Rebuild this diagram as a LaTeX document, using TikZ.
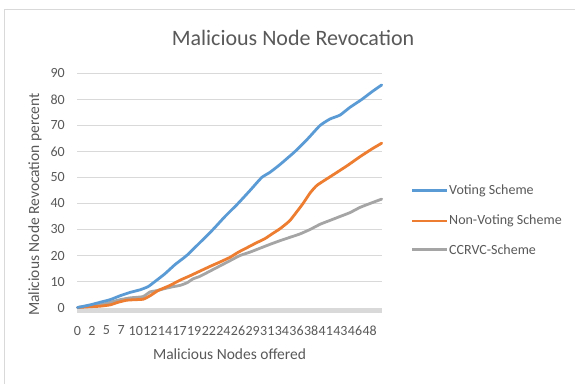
\documentclass[tikz,border=0pt]{standalone}
\usepackage{fontspec}
\setmainfont{Carlito}
\definecolor{txtgray}{HTML}{595959}
\definecolor{gridgray}{HTML}{D9D9D9}
\definecolor{framegray}{HTML}{D9D9D9}
\definecolor{cblue}{HTML}{5B9BD5}
\definecolor{corange}{HTML}{ED7D31}
\definecolor{cgray}{HTML}{A5A5A5}
\begin{document}
\begin{tikzpicture}[x=1pt,y=-1pt,
  ticklab/.style={text=txtgray,font=\fontsize{14}{14}\selectfont,inner sep=0pt},
  legtext/.style={text=txtgray,font=\fontsize{14}{14}\selectfont,inner sep=0pt,anchor=west},
  series/.style={line width=2.8pt,line join=round,line cap=round},
  gridline/.style={draw=gridgray,line width=0.9pt}]
\useasboundingbox (0,0) rectangle (575,383);
\fill[white] (0,0) rectangle (575,383);
\draw[framegray,line width=1pt] (4.5,395) -- (4.5,9) -- (590,9);
% title
\node[text=txtgray,font=\fontsize{22}{22}\selectfont,inner sep=0pt,anchor=base] (title) at (293,45) {Malicious Node Revocation};
% grid and y labels
\foreach \v [count=\i] in {10,20,...,90}{
  \coordinate (gl\i) at (77.3,{307.5-2.6*\v});
  \coordinate (gr\i) at (381.7,{307.5-2.6*\v});
  \draw[gridline] (gl\i) -- (gr\i);
  \node[ticklab,anchor=east] (yl\i) at (65,{307.5-2.6*\v}) {\v};
}
\node[ticklab,anchor=east] (yl0) at (65,307.5) {0};
\coordinate (axl) at (77.3,310.3);
\coordinate (axr) at (381.7,310.3);
\draw[gridgray,line width=5.5pt] (axl) -- (axr);
% x labels
\foreach \lab [count=\k from 0] in {0,2,5,7,10,12,14,17,19,22,24,26,29,31,34,36,38,41,43,46,48}{
  \node[ticklab,anchor=center] (xl\k) at ({77.3+14.616*\k},330.5) {\lab};
}
% axis titles
\node[text=txtgray,font=\fontsize{15.5}{15.5}\selectfont,inner sep=0pt] (xtitle) at (229.5,354) {Malicious Nodes offered};
\node[text=txtgray,font=\fontsize{15.5}{15.5}\selectfont,inner sep=0pt,rotate=90] (ytitle) at (35,204.5) {Malicious Node Revocation percent};
% data
\begin{scope}[y=2.6pt,shift={(0pt,-307.5pt)}]
\draw[series,cgray] plot[smooth,tension=0.3] coordinates {(77.5,0) (90,0.5) (100,1) (110,2) (120,3) (130,3.7) (143,4.2) (150,6) (157,6.5) (165,7.3) (173,8) (180,8.5) (187,9.5) (193,11) (200,12) (210,14) (220,16) (230,18) (240,20) (250,21.3) (260,22.8) (270,24.3) (280,25.7) (290,27) (300,28.3) (310,30) (320,32) (330,33.5) (340,35) (350,36.5) (360,38.5) (370,40) (381.7,41.7)};
\draw[series,corange] plot[smooth,tension=0.3] coordinates {(77.5,0) (90,0.3) (100,0.5) (110,1) (118,2) (126.7,2.8) (135,3) (143.3,3.2) (150,4.5) (158,6.5) (170,8.5) (180,10.5) (190,12.2) (200,14) (210,15.8) (220,17.5) (230,19.3) (238,21.2) (247,23) (256,24.8) (265,26.5) (272,28.3) (280,30.3) (290,33.5) (303,40) (310,44) (317,47) (333,51) (347,54.5) (360,58) (372,61) (381.7,63.2)};
\draw[series,cblue] plot[smooth,tension=0.3] coordinates {(77.5,0) (90,1) (100,2) (110,3) (120,4.5) (130,5.8) (140,6.8) (148,8) (155,10) (165,13) (175,16.5) (186.7,20) (200,25) (213,30) (225,35) (238,40) (250,45) (261.7,50) (270,52) (280,55) (295,60) (308,65) (320,70) (330,72.5) (340,74) (350,77) (361.7,80) (372,83) (381.7,85.6)};
\end{scope}
% legend
\coordinate (la1) at (412,190.7); \coordinate (lb1) at (447,190.7);
\coordinate (la2) at (412,221);   \coordinate (lb2) at (447,221);
\coordinate (la3) at (412,249.3); \coordinate (lb3) at (447,249.3);
\draw[series,line cap=butt,cblue] (la1) -- (lb1);
\draw[series,line cap=butt,corange] (la2) -- (lb2);
\draw[series,line cap=butt,cgray] (la3) -- (lb3);
\node[legtext] (lt1) at (449,190.7) {Voting Scheme};
\node[legtext] (lt2) at (449,221) {Non-Voting Scheme};
\node[legtext] (lt3) at (449,249.3) {CCRVC-Scheme};
\end{tikzpicture}
\end{document}
